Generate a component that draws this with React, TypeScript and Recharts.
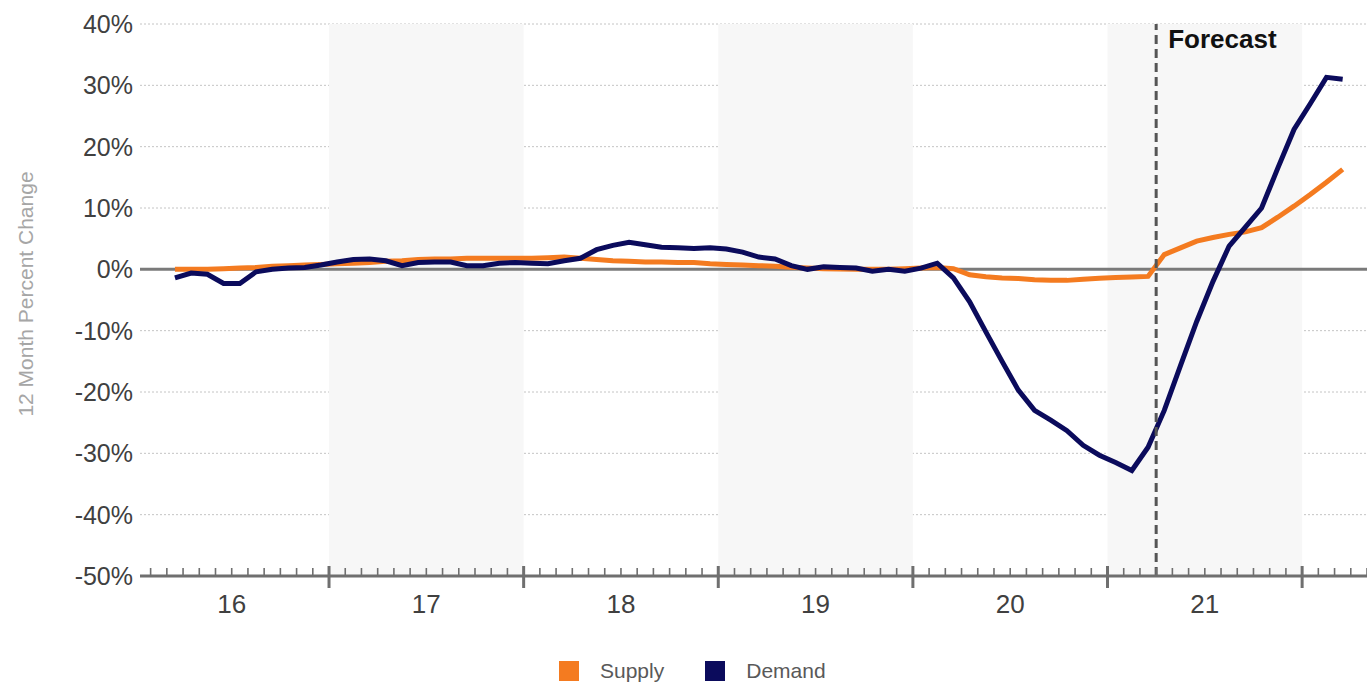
import React from 'react';
import {
  LineChart,
  Line,
  XAxis,
  YAxis,
  CartesianGrid,
  ReferenceLine,
  ReferenceArea,
  Legend,
} from 'recharts';

// Months are counted from January 2016 (0). First observation: March 2016.
const START_MONTH = 2;

// 12-month percent change, monthly (Mar-2016 .. Mar-2022)
const supply = [
  0.0, 0.0, 0.0, 0.1, 0.2, 0.3, 0.5, 0.6, 0.7, 0.8,
  0.9, 1.0, 1.1, 1.3, 1.4, 1.6, 1.7, 1.7, 1.8, 1.8,
  1.8, 1.8, 1.8, 1.9, 2.0, 1.8, 1.6, 1.4, 1.3, 1.2,
  1.2, 1.1, 1.1, 0.9, 0.8, 0.7, 0.6, 0.5, 0.35, 0.2,
  0.1, 0.05, 0.0, 0.0, 0.0, 0.1, 0.2, 0.3, 0.1, -0.9,
  -1.2, -1.4, -1.5, -1.7, -1.8, -1.8, -1.6, -1.45, -1.35, -1.25,
  -1.15, 2.4, 3.5, 4.6, 5.2, 5.7, 6.1, 6.8, 8.5, 10.3,
  12.2, 14.2, 16.3,
];

const demand = [
  -1.4, -0.6, -0.8, -2.3, -2.3, -0.4, 0.0, 0.2, 0.3, 0.7,
  1.2, 1.6, 1.7, 1.4, 0.6, 1.1, 1.2, 1.2, 0.6, 0.6,
  1.0, 1.1, 1.0, 0.9, 1.4, 1.8, 3.2, 3.9, 4.4, 4.0,
  3.6, 3.5, 3.4, 3.5, 3.3, 2.8, 2.0, 1.7, 0.6, 0.0,
  0.4, 0.3, 0.2, -0.3, 0.0, -0.3, 0.2, 1.0, -1.4, -5.3,
  -10.2, -15.0, -19.7, -23.0, -24.6, -26.3, -28.7, -30.3, -31.5, -32.8,
  -29.0, -23.0, -15.7, -8.5, -2.0, 3.8, 6.9, 10.0, 16.5, 22.8,
  27.0, 31.3, 31.0,
];

const yearLabels = ['16', '17', '18', '19', '20', '21'];
const shadedYearIdx = [1, 3, 5];
const yTicks = [-50, -40, -30, -20, -10, 0, 10, 20, 30, 40];
const FORECAST_MONTH = 63;
const forecastLabel = 'Forecast';
const yAxisTitle = '12 Month Percent Change';
const seriesOrder = ['Supply', 'Demand'];
const seriesColors = { supply: '#F47B20', demand: '#0B0B5C' };

const data = supply.map((s, i) => ({
  m: START_MONTH + i + 0.5,
  supply: s,
  demand: demand[i],
}));

const monthTicks = Array.from({ length: 76 }, (_, i) => i + 1);

const FONT = 'Arial, "Liberation Sans", Helvetica, sans-serif';

const XTick = (props: any) => {
  const { x, y, payload } = props;
  const v = payload.value as number;
  const major = v % 12 === 0;
  const labelIdx = (v - 6) / 12;
  const label = v % 12 === 6 ? yearLabels[labelIdx] : null;
  return (
    <g>
      <line
        x1={x}
        x2={x}
        y1={major ? y - 10 : y - 8}
        y2={major ? y + 12 : y}
        stroke="#6f6f6f"
        strokeWidth={major ? 3 : 1.6}
      />
      {label && (
        <text
          x={x}
          y={y + 37}
          textAnchor="middle"
          fontSize={26}
          fill="#404040"
          fontFamily={FONT}
        >
          {label}
        </text>
      )}
    </g>
  );
};

const YTick = (props: any) => {
  const { x, y, payload } = props;
  return (
    <text
      x={x}
      y={y + 9}
      textAnchor="end"
      fontSize={25}
      fill="#404040"
      fontFamily={FONT}
    >
      {payload.value}%
    </text>
  );
};

const LegendContent = (props: any) => {
  const items = [...(props.payload || [])].sort(
    (a: any, b: any) => seriesOrder.indexOf(a.value) - seriesOrder.indexOf(b.value)
  );
  return (
    <div
      style={{
        display: 'flex',
        alignItems: 'center',
        paddingLeft: 559,
        height: 22,
        fontFamily: FONT,
        fontSize: 21,
        color: '#595959',
      }}
    >
      {items.map((p: any, i: number) => (
        <div
          key={p.value}
          style={{ display: 'flex', alignItems: 'center', marginRight: i === 0 ? 41 : 0 }}
        >
          <span
            style={{ width: 20, height: 20, background: p.color, display: 'inline-block', marginRight: 21 }}
          />
          <span>{p.value}</span>
        </div>
      ))}
    </div>
  );
};

const ForecastLabel = (props: any) => {
  const { viewBox } = props;
  return (
    <text
      x={viewBox.x + 12}
      y={48}
      fontSize={26}
      fontWeight="bold"
      fill="#111"
      fontFamily={FONT}
    >
      {forecastLabel}
    </text>
  );
};

export default function App() {
  return (
    <div style={{ position: 'absolute', left: 0, top: 0, width: 1367, height: 682, background: '#fff' }}>
      <LineChart
        width={1367}
        height={682}
        data={data}
        margin={{ top: 24, right: 0, bottom: 0, left: 0 }}
      >
        {shadedYearIdx.map((yi) => (
          <ReferenceArea
            key={yi}
            x1={yi * 12}
            x2={yi * 12 + 12}
            y1={-50}
            y2={40}
            fill="#f7f7f7"
            fillOpacity={1}
            stroke="none"
            ifOverflow="hidden"
          />
        ))}
        <CartesianGrid vertical={false} stroke="#c4c4c4" strokeDasharray="2 2" strokeWidth={1} />
        <XAxis
          dataKey="m"
          type="number"
          domain={[0.345, 76]}
          allowDataOverflow
          ticks={monthTicks}
          interval={0}
          tick={<XTick />}
          tickLine={false}
          tickSize={0}
          tickMargin={0}
          axisLine={{ stroke: '#6f6f6f', strokeWidth: 3 }}
          height={106}
        />
        <YAxis
          type="number"
          domain={[-50, 40]}
          ticks={yTicks}
          interval={0}
          width={140}
          axisLine={false}
          tickLine={false}
          tickSize={0}
          tickMargin={7}
          tick={<YTick />}
          label={() => (
            <text
              transform="translate(33, 294) rotate(-90)"
              textAnchor="middle"
              fontSize={21}
              fill="#a6a6a6"
              fontFamily={FONT}
            >
              {yAxisTitle}
            </text>
          )}
        />
        <ReferenceLine y={0} stroke="#7a7a7a" strokeWidth={3} />
        <Line
          type="linear"
          dataKey="supply"
          name="Supply"
          stroke={seriesColors.supply}
          strokeWidth={5}
          dot={false}
          isAnimationActive={false}
        />
        <Line
          type="linear"
          dataKey="demand"
          name="Demand"
          stroke={seriesColors.demand}
          strokeWidth={5}
          dot={false}
          isAnimationActive={false}
        />
        <ReferenceLine
          x={FORECAST_MONTH}
          stroke="#555555"
          strokeWidth={3}
          strokeDasharray="9 5"
          label={<ForecastLabel />}
        />
        <Legend
          layout="vertical"
          verticalAlign="middle"
          align="center"
          content={<LegendContent />}
          wrapperStyle={{ position: 'absolute', left: 0, top: 660, width: 1367 }}
        />
      </LineChart>
    </div>
  );
}
